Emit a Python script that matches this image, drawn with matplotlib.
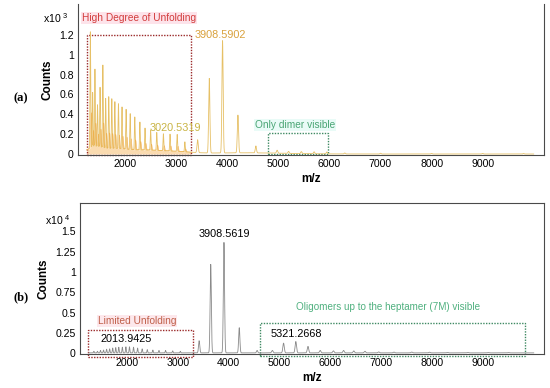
import numpy as np
import matplotlib
matplotlib.use('Agg')
import matplotlib.pyplot as plt
from matplotlib.patches import Rectangle

plt.rcParams['font.family'] = ['Liberation Sans', 'DejaVu Sans']
plt.rcParams['mathtext.fontset'] = 'custom'
plt.rcParams['mathtext.rm'] = 'Liberation Sans'
plt.rcParams['mathtext.default'] = 'regular'

## panel (a): unfolded charge states (m/z, height x10^3)
a_unf_mz = [1320, 1365, 1410, 1460, 1510, 1565, 1620, 1680, 1740, 1800, 1870, 1940,
            2020, 2100, 2190, 2290, 2390, 2500, 2620, 2750, 2880, 3020, 3170]
a_unf_h = [1.17, 0.55, 0.78, 0.42, 0.60, 0.83, 0.50, 0.52, 0.50, 0.47, 0.45, 0.42,
           0.40, 0.36, 0.33, 0.28, 0.22, 0.20, 0.18, 0.17, 0.17, 0.17, 0.10]
## panel (a): folded monomer + dimer region
a_fold_mz = [3420, 3648, 3908, 4209, 4560, 4975, 5200, 5450, 5700, 5950, 6300, 7000, 8000, 9000, 9800]
a_fold_h = [0.13, 0.75, 1.13, 0.38, 0.07, 0.03, 0.02, 0.02, 0.02, 0.02, 0.01, 0.008, 0.006, 0.006, 0.005]
## panel (a): broad baseline hump under the unfolded region
a_base_mz = [1400, 1800, 2400, 3000, 4300]
a_base_h = [0.06, 0.05, 0.035, 0.02, 0.012]
a_base_w = [150, 250, 300, 300, 800]

## panel (b): values x10^4
b_unf_mz = [1350, 1420, 1480, 1540, 1600, 1660, 1720, 1780, 1840, 1910, 1980, 2050,
            2130, 2210, 2300, 2400, 2510, 2630, 2760, 2900, 3050]
b_unf_h = [0.02, 0.02, 0.03, 0.035, 0.045, 0.05, 0.06, 0.065, 0.07, 0.07, 0.075, 0.075,
           0.07, 0.06, 0.05, 0.04, 0.035, 0.03, 0.03, 0.025, 0.02]
b_fold_mz = [3420, 3648, 3908, 4209, 4560]
b_fold_h = [0.15, 1.09, 1.36, 0.31, 0.03]
b_olig_mz = [4860, 5080, 5321, 5560, 5800, 6060, 6260, 6460, 6680, 6950, 7250,
             7600, 7950, 8300, 8700, 9100, 9500]
b_olig_h = [0.03, 0.12, 0.14, 0.08, 0.03, 0.025, 0.03, 0.025, 0.02, 0.012, 0.01,
            0.01, 0.008, 0.006, 0.005, 0.004, 0.004]

a_yticks = [0, 0.2, 0.4, 0.6, 0.8, 1.0, 1.2]
a_ylabels = ['0', '0.2', '0.4', '0.6', '0.8', '1', '1.2']
b_yticks = [0, 0.25, 0.5, 0.75, 1.0, 1.25, 1.5]
b_ylabels = ['0', '0.25', '0.5', '0.75', '1', '1.25', '1.5']
xticks = [2000, 3000, 4000, 5000, 6000, 7000, 8000, 9000]

mz = np.arange(1250, 10000, 1.0)


def peaks(centers, heights, width):
    y = np.zeros_like(mz)
    ws = width if np.iterable(width) else [width] * len(centers)
    for c, h, w in zip(centers, heights, ws):
        y += h * np.exp(-0.5 * ((mz - c) / w) ** 2)
    return y


spec_a = (peaks(a_unf_mz, a_unf_h, 7) + peaks(a_fold_mz, a_fold_h, 12)
          + peaks(a_base_mz, a_base_h, a_base_w))
adduct_a = peaks([m + 18 for m in a_unf_mz], [0.3 * h for h in a_unf_h], 9) \
    + peaks(a_base_mz, a_base_h, a_base_w)
spec_b = (peaks(b_unf_mz, b_unf_h, 7) + peaks(b_fold_mz, b_fold_h, 12)
          + peaks(b_olig_mz, b_olig_h, 14) + 0.004)

fig = plt.figure(figsize=(5.5, 3.88), dpi=100)
ax_a = fig.add_axes([0.1418, 0.6005, 0.8472, 0.3892])
ax_b = fig.add_axes([0.1455, 0.0876, 0.8435, 0.3892])

xlim = (1078, 10200)
spine_col = '#4a4a4a'
for ax in (ax_a, ax_b):
    ax.set_xlim(*xlim)
    ax.set_xticks(xticks)
    ax.set_xticklabels([str(t) for t in xticks], fontsize=7.6)
    ax.tick_params(axis='x', length=0, pad=3)
    ax.tick_params(axis='y', length=0, pad=3, labelsize=7.6)
    for s in ax.spines.values():
        s.set_color(spine_col)
        s.set_linewidth(0.8)
    ax.set_xlabel('m/z', fontsize=8.5, fontweight='bold', labelpad=3)
    ax.set_ylabel('Counts', fontsize=8.5, fontweight='bold', labelpad=4)

## (a)
low = mz < 3300
ax_a.fill_between(mz[low], 0, adduct_a[low], color='#f29a1e', alpha=0.35, lw=0)
ax_a.plot(mz, spec_a, color='#e6c066', lw=0.6)
ax_a.plot(mz[low], adduct_a[low], color='#f0a030', lw=0.4, alpha=0.6)
ax_a.set_ylim(-0.01, 1.51)
ax_a.set_yticks(a_yticks)
ax_a.set_yticklabels(a_ylabels)
ax_a.spines['top'].set_visible(False)

ax_a.text(-0.02, 0.905, 'x10 $^{3}$', transform=ax_a.transAxes, ha='right',
          va='center', fontsize=7.6)
ax_a.add_patch(Rectangle((1254, -0.01), 3290 - 1254, 1.21, fill=False,
                         ec='#9b2a2a', lw=1.0, ls=(0, (1, 1)), clip_on=False))
ax_a.add_patch(Rectangle((4798, 0), 5972 - 4798, 0.21, fill=False,
                         ec='#3f8a63', lw=1.0, ls=(0, (1, 1)), clip_on=False))
ax_a.text(1156, 1.37, 'High Degree of Unfolding', color='#d23c3c', fontsize=7.3,
          va='center', bbox=dict(fc='#fde3ea', ec='none', pad=0.6))
ax_a.text(3369, 1.2, '3908.5902', color='#d9a13c', fontsize=7.8, va='center')
ax_a.text(2488, 0.26, '3020.5319', color='#c9b444', fontsize=7.8, va='center')
ax_a.text(4544, 0.29, 'Only dimer visible', color='#4aa574', fontsize=7.3,
          va='center', bbox=dict(fc='#e9fbf7', ec='none', pad=0.6))

## (b)
ax_b.plot(mz, spec_b, color='#8a8a8a', lw=0.6)
ax_b.set_ylim(-0.01, 1.85)
ax_b.set_yticks(b_yticks)
ax_b.set_yticklabels(b_ylabels)

ax_b.text(-0.02, 0.89, 'x10 $^{4}$', transform=ax_b.transAxes, ha='right',
          va='center', fontsize=7.6)
ax_b.add_patch(Rectangle((1235, -0.05), 3302 - 1235, 0.335, fill=False,
                         ec='#9b2a2a', lw=1.0, ls=(0, (1, 1)), clip_on=False))
ax_b.add_patch(Rectangle((4620, -0.04), 9836 - 4620, 0.41, fill=False,
                         ec='#3f8a63', lw=1.0, ls=(0, (1, 1)), clip_on=False))
ax_b.text(3408, 1.47, '3908.5619', color='black', fontsize=7.8, va='center')
ax_b.text(1432, 0.40, 'Limited Unfolding', color='#c0604a', fontsize=7.3,
          va='center', bbox=dict(fc='#fde8ec', ec='none', pad=0.6))
ax_b.text(1472, 0.18, '2013.9425', color='black', fontsize=7.8, va='center')
ax_b.text(4817, 0.24, '5321.2668', color='black', fontsize=7.8, va='center')
ax_b.text(5329, 0.57, 'Oligomers up to the heptamer (7M) visible', color='#4fb07f',
          fontsize=7.1, va='center')

fig.text(0.038, 0.747, '(a)', family='Liberation Serif', fontweight='bold',
         fontsize=9, ha='center', va='center')
fig.text(0.038, 0.235, '(b)', family='Liberation Serif', fontweight='bold',
         fontsize=9, ha='center', va='center')

fig.savefig('out.png', dpi=100)
